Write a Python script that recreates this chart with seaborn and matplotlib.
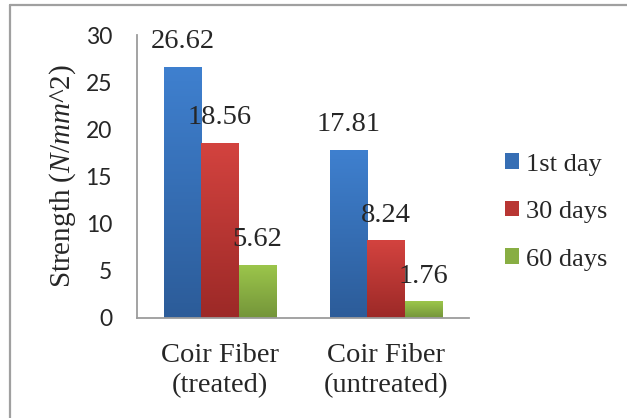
import numpy as np
import pandas as pd
import matplotlib.pyplot as plt
import seaborn as sns
from matplotlib.patches import Patch
from matplotlib.lines import Line2D
from matplotlib.colors import LinearSegmentedColormap

# data
fibers = ["Coir Fiber\n(treated)", "Coir Fiber\n(untreated)"]
periods = ["1st day", "30 days", "60 days"]
day1 = [26.62, 17.81]
day30 = [18.56, 8.24]
day60 = [5.62, 1.76]
yticks = [0, 5, 10, 15, 20, 25, 30]

# gradient colours (top, bottom) per series
tops = ["#3f80cf", "#d3433f", "#9cc64b"]
bottoms = ["#2c5c99", "#9c2927", "#74953a"]

df = pd.DataFrame({
    "fiber": fibers * 3,
    "period": [p for p in periods for _ in fibers],
    "strength": day1 + day30 + day60,
})

sns.set_style("white")
plt.rcParams["font.family"] = ["Liberation Serif", "DejaVu Serif"]
plt.rcParams["mathtext.fontset"] = "custom"
plt.rcParams["mathtext.it"] = "Liberation Serif:italic"
plt.rcParams["mathtext.rm"] = "Liberation Serif"

fig = plt.figure(figsize=(6.27, 4.18), dpi=100)
ax = fig.add_axes([137/627, 100/418, 332/627, 283/418])

mids = [LinearSegmentedColormap.from_list("m", [b, t])(0.5) for t, b in zip(tops, bottoms)]
sns.barplot(data=df, x="fiber", y="strength", hue="period", palette=mids,
            width=0.67, legend=False, ax=ax, saturation=1)

# vertical gradient on each bar + value labels
for cont, t, b in zip(ax.containers, tops, bottoms):
    cmap = LinearSegmentedColormap.from_list("g", [b, t])
    for bar in cont:
        x0, y0 = bar.get_x(), bar.get_y()
        w, h = bar.get_width(), bar.get_height()
        grad = np.linspace(0, 1, 100).reshape(-1, 1)
        im = ax.imshow(grad, cmap=cmap, origin="lower", aspect="auto",
                       extent=[x0, x0 + w, y0, y0 + h], zorder=bar.get_zorder())
        im.set_clip_path(bar)
        ax.annotate(f"{h:.2f}", (x0 + w/2, h), xytext=(0, 18), textcoords="offset points",
                    ha="center", va="center", fontsize=20.5, annotation_clip=False)
ax.set_xlim(-0.5, 1.5)
ax.set_ylim(0, 30)

ax.set_yticks(yticks)
ax.set_yticklabels([str(v) for v in yticks], family="Lato", fontsize=16.5)
ax.tick_params(axis="y", length=0, pad=18)
ax.tick_params(axis="x", length=0, pad=18, labelsize=20.5)
for lab in ax.get_xticklabels():
    lab.set_linespacing(1.25)
ax.set_xlabel("")
ax.set_ylabel("")
for s in ["top", "right"]:
    ax.spines[s].set_visible(False)
for s in ["left", "bottom"]:
    ax.spines[s].set_color("#9c9c9c")
    ax.spines[s].set_linewidth(1.3)

fig.text(63/627, 1 - 176/418, r"Strength ($N/mm$^2)", rotation=90,
         ha="center", va="center", fontsize=21)

handles = [Patch(facecolor=c, edgecolor="none") for c in mids]
fig.legend(handles, periods, loc="center left", bbox_to_anchor=(505/627, 1 - 212/418),
           frameon=False, fontsize=19, handlelength=0.53, handleheight=0.53,
           handletextpad=0.25, labelspacing=0.96, borderpad=0, borderaxespad=0)

# chart frame (only top and left edges visible)
fig.add_artist(Line2D([10/627, 10/627], [0, 1 - 5/418], color="#a0a0a0", lw=1.6))
fig.add_artist(Line2D([10/627, 1], [1 - 5/418, 1 - 5/418], color="#a0a0a0", lw=1.6))

fig.savefig("out.png", dpi=100)
